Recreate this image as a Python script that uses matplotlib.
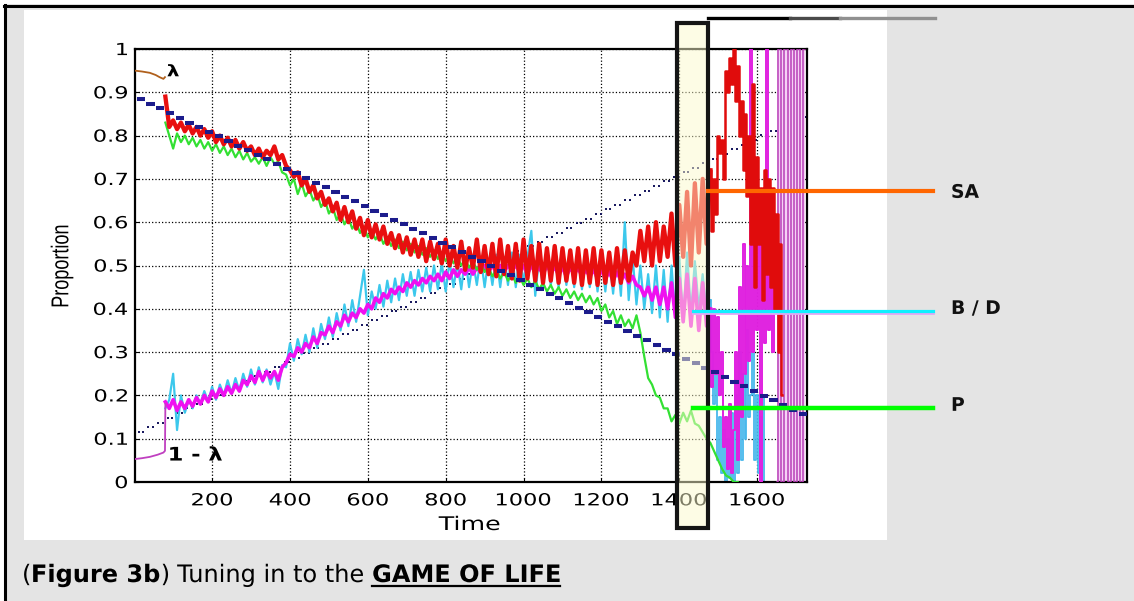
import numpy as np
import matplotlib
matplotlib.use('Agg')
import matplotlib.pyplot as plt
from matplotlib.patches import Rectangle, PathPatch
from matplotlib.lines import Line2D
from matplotlib.textpath import TextPath
from matplotlib.font_manager import FontProperties
from matplotlib.transforms import Affine2D

plt.rcParams['font.family'] = ['DejaVu Sans']

W, H = 1134, 601

# ---------------- data ----------------
# step of 10 time units from t=80 to t=1480
main_x = np.arange(80, 1481, 10)

sa = [0.89, 0.82, 0.835, 0.815, 0.83, 0.81, 0.825, 0.805, 0.82, 0.80,
      0.815, 0.795, 0.81, 0.785, 0.80, 0.78, 0.795, 0.775, 0.79, 0.77,
      0.785, 0.765, 0.775, 0.755, 0.77, 0.75, 0.765, 0.755, 0.775, 0.745,
      0.755, 0.73, 0.72, 0.705, 0.715, 0.685, 0.70, 0.67, 0.685, 0.655,
      0.67, 0.64, 0.655, 0.625, 0.645, 0.605, 0.635, 0.60, 0.625, 0.585,
      0.61, 0.57, 0.605, 0.565, 0.595, 0.56, 0.59, 0.55, 0.575, 0.54,
      0.57, 0.53, 0.565, 0.525, 0.56, 0.52, 0.56, 0.51, 0.555, 0.515,
      0.55, 0.505, 0.56, 0.50, 0.545, 0.495, 0.555, 0.49, 0.54, 0.495,
      0.56, 0.485, 0.545, 0.48, 0.55, 0.475, 0.56, 0.48, 0.545, 0.47,
      0.55, 0.465, 0.56, 0.47, 0.545, 0.465, 0.55, 0.46, 0.54, 0.465,
      0.545, 0.46, 0.54, 0.465, 0.535, 0.46, 0.54, 0.455, 0.535, 0.46,
      0.54, 0.455, 0.535, 0.46, 0.53, 0.455, 0.54, 0.46, 0.535, 0.465,
      0.53, 0.50, 0.58, 0.51, 0.59, 0.50, 0.60, 0.51, 0.59, 0.52,
      0.62, 0.50, 0.64, 0.52, 0.67, 0.50, 0.69, 0.53, 0.70, 0.55,
      0.72]

p_x = np.arange(80, 1551, 10)
p = [0.83, 0.80, 0.77, 0.805, 0.785, 0.80, 0.78, 0.795, 0.775, 0.79,
     0.77, 0.785, 0.765, 0.78, 0.76, 0.775, 0.755, 0.77, 0.75, 0.765,
     0.745, 0.76, 0.74, 0.75, 0.735, 0.75, 0.73, 0.75, 0.735, 0.74,
     0.715, 0.71, 0.685, 0.70, 0.665, 0.69, 0.66, 0.675, 0.65, 0.665,
     0.635, 0.65, 0.62, 0.635, 0.605, 0.62, 0.595, 0.61, 0.585, 0.60,
     0.575, 0.59, 0.565, 0.58, 0.56, 0.575, 0.55, 0.565, 0.545, 0.56,
     0.54, 0.555, 0.535, 0.55, 0.53, 0.545, 0.525, 0.54, 0.52, 0.535,
     0.515, 0.53, 0.51, 0.525, 0.505, 0.52, 0.50, 0.515, 0.495, 0.51,
     0.49, 0.505, 0.485, 0.495, 0.475, 0.49, 0.47, 0.485, 0.465, 0.48,
     0.46, 0.475, 0.455, 0.47, 0.45, 0.465, 0.445, 0.46, 0.44, 0.455,
     0.435, 0.45, 0.43, 0.445, 0.425, 0.44, 0.42, 0.435, 0.415, 0.43,
     0.41, 0.425, 0.395, 0.41, 0.38, 0.395, 0.365, 0.385, 0.36, 0.375,
     0.355, 0.385, 0.345, 0.29, 0.24, 0.225, 0.20, 0.195, 0.17, 0.17,
     0.14, 0.155, 0.135, 0.16, 0.14, 0.165, 0.135, 0.13, 0.115, 0.10,
     0.09, 0.07, 0.05, 0.03, 0.015, 0.01, 0.0, 0.0]

d = [0.185, 0.17, 0.19, 0.165, 0.185, 0.17, 0.19, 0.175, 0.195, 0.18,
     0.20, 0.185, 0.21, 0.195, 0.215, 0.20, 0.22, 0.205, 0.225, 0.21,
     0.235, 0.225, 0.245, 0.23, 0.255, 0.235, 0.255, 0.24, 0.255, 0.235,
     0.265, 0.275, 0.295, 0.29, 0.31, 0.30, 0.32, 0.31, 0.335, 0.32,
     0.345, 0.34, 0.36, 0.345, 0.37, 0.36, 0.385, 0.37, 0.39, 0.38,
     0.40, 0.39, 0.41, 0.40, 0.425, 0.415, 0.435, 0.425, 0.445, 0.435,
     0.45, 0.44, 0.46, 0.45, 0.465, 0.455, 0.47, 0.46, 0.475, 0.465,
     0.48, 0.465, 0.485, 0.47, 0.49, 0.475, 0.49, 0.48, 0.495, 0.48,
     0.495, 0.485, 0.50, 0.485, 0.50, 0.485, 0.50, 0.485, 0.50, 0.49,
     0.50, 0.485, 0.50, 0.48, 0.50, 0.485, 0.495, 0.48, 0.50, 0.485,
     0.495, 0.48, 0.495, 0.475, 0.495, 0.48, 0.495, 0.475, 0.49, 0.475,
     0.49, 0.47, 0.49, 0.47, 0.485, 0.465, 0.485, 0.465, 0.48, 0.46,
     0.475, 0.455, 0.45, 0.43, 0.45, 0.42, 0.45, 0.41, 0.45, 0.40,
     0.46, 0.38, 0.47, 0.37, 0.48, 0.36, 0.47, 0.35, 0.46, 0.36,
     0.40]

b = [0.17, 0.19, 0.25, 0.12, 0.20, 0.16, 0.19, 0.17, 0.20, 0.18,
     0.21, 0.185, 0.22, 0.19, 0.225, 0.20, 0.235, 0.205, 0.24, 0.21,
     0.25, 0.22, 0.26, 0.225, 0.265, 0.23, 0.26, 0.225, 0.255, 0.215,
     0.27, 0.265, 0.32, 0.28, 0.33, 0.295, 0.34, 0.30, 0.355, 0.31,
     0.365, 0.33, 0.38, 0.335, 0.39, 0.35, 0.41, 0.36, 0.42, 0.37,
     0.43, 0.49, 0.385, 0.44, 0.40, 0.455, 0.405, 0.465, 0.415, 0.47,
     0.42, 0.48, 0.43, 0.485, 0.43, 0.49, 0.44, 0.495, 0.44, 0.50,
     0.445, 0.505, 0.44, 0.51, 0.45, 0.505, 0.445, 0.52, 0.45, 0.51,
     0.455, 0.52, 0.45, 0.515, 0.455, 0.525, 0.45, 0.52, 0.455, 0.53,
     0.45, 0.525, 0.46, 0.52, 0.58, 0.43, 0.52, 0.45, 0.525, 0.455,
     0.53, 0.45, 0.525, 0.455, 0.53, 0.45, 0.525, 0.445, 0.53, 0.45,
     0.52, 0.44, 0.525, 0.44, 0.52, 0.435, 0.53, 0.43, 0.60, 0.42,
     0.52, 0.41, 0.50, 0.40, 0.48, 0.39, 0.50, 0.38, 0.49, 0.37,
     0.50, 0.38, 0.52, 0.37, 0.53, 0.39, 0.51, 0.40, 0.48, 0.39,
     0.42]

# unstable end of the run, step of 5 (first point repeats t=1480)
sa_wild_x = np.arange(1480, 1666, 5)
sa_wild = [0.72, 0.58, 0.70, 0.62, 0.80, 0.76, 0.79, 0.70, 0.95, 0.90, 0.98,
           0.92, 1.00, 0.88, 0.96, 0.80, 0.88, 0.72, 0.85, 0.66, 0.80,
           0.55, 0.92, 0.45, 0.75, 0.55, 0.68, 0.42, 0.72, 0.48, 0.70,
           0.45, 0.68, 0.40, 0.62, 0.30, 0.55, 0.20]
d_wild_x = np.arange(1480, 1646, 5)
d_wild = [0.40, 0.22, 0.40, 0.25, 0.38, 0.20, 0.30, 0.08, 0.15, 0.03, 0.18,
          0.02, 0.12, 0.30, 0.05, 0.45, 0.15, 0.55, 0.25, 0.50, 0.28,
          1.00, 0.30, 0.55, 0.35, 0.60, 0.0, 0.55, 0.32, 1.00, 0.35,
          0.55, 0.30, 0.50]
b_wild_x = np.arange(1480, 1621, 5)
b_wild = [0.42, 0.30, 0.18, 0.25, 0.05, 0.15, 0.02, 0.12, 0.00, 0.10, 0.01,
          0.16, 0.00, 0.20, 0.02, 0.30, 0.05, 0.25, 0.10, 0.35, 0.15,
          0.20, 0.30, 0.05, 0.20, 0.02, 0.15, 0.00, 0.20]
d_stripe_x = np.arange(1650, 1723, 8)
d_stripe = [0.0, 1.0, 0.0, 1.0, 0.0, 1.0, 0.0, 1.0, 0.0, 1.0]

# start of the run, before t=80
lam_x = [2, 20, 40, 55, 65, 75, 79]
lam = [0.95, 0.948, 0.945, 0.94, 0.935, 0.931, 0.935]
onelam_x = [2, 20, 40, 60, 75, 79, 80]
onelam = [0.053, 0.055, 0.058, 0.063, 0.068, 0.072, 0.18]

# lambda staircase (dashes)
lam_step_x = np.arange(17, 1718, 25)
lam_step = [0.884, 0.873, 0.863, 0.852, 0.841, 0.830, 0.820, 0.809, 0.798, 0.788,
            0.777, 0.766, 0.756, 0.745, 0.734, 0.724, 0.713, 0.702, 0.691, 0.681,
            0.670, 0.659, 0.649, 0.638, 0.627, 0.617, 0.606, 0.595, 0.584, 0.574,
            0.563, 0.552, 0.542, 0.531, 0.520, 0.510, 0.499, 0.488, 0.477, 0.467,
            0.456, 0.445, 0.435, 0.424, 0.413, 0.403, 0.392, 0.381, 0.370, 0.360,
            0.349, 0.338, 0.328, 0.317, 0.306, 0.296, 0.285, 0.274, 0.263, 0.253,
            0.242, 0.231, 0.221, 0.210, 0.199, 0.189, 0.178, 0.167, 0.157]

window = (1394, 1474)
xticks = [200, 400, 600, 800, 1000, 1200, 1400, 1600]
yticks = [0, 0.1, 0.2, 0.3, 0.4, 0.5, 0.6, 0.7, 0.8, 0.9, 1]
ytick_labels = ['0', '0.1', '0.2', '0.3', '0.4', '0.5', '0.6', '0.7', '0.8', '0.9', '1']

STRETCH = 1.35   # the chart picture is stretched sideways


def fx(px):
    return px / W


def fy(py):
    return 1 - py / H


fig = plt.figure(figsize=(W / 100, H / 100), dpi=100, facecolor='white')


def stext(x, y, s, size, weight='normal', family='DejaVu Sans', ha='left',
          va='baseline', sx=1.0, rot=0, color='black', z=30):
    # text drawn as a path so it can be widened like the original picture
    tp = TextPath((0, 0), s, size=size * 100 / 72, prop=FontProperties(family=family, weight=weight))
    e = tp.get_extents()
    ox = {'left': 0, 'center': (e.x0 + e.x1) / 2, 'right': e.x1}[ha]
    oy = {'baseline': 0, 'center': (e.y0 + e.y1) / 2, 'top': e.y1, 'bottom': e.y0}[va]
    tr = Affine2D().translate(-ox, -oy).rotate_deg(rot).scale(sx, 1).translate(x, H - y)
    fig.add_artist(PathPatch(tp, transform=tr, facecolor=color, edgecolor='none', lw=0, zorder=z))
    return e.x1 * sx


# page background, frame and white panel
fig.add_artist(Rectangle((fx(4), 0), 1, fy(4), facecolor='#e4e4e4', edgecolor='none', zorder=-3))
fig.add_artist(Rectangle((fx(24), fy(540)), fx(887) - fx(24), fy(10) - fy(540),
                         facecolor='white', edgecolor='none', zorder=-2))
fig.add_artist(Line2D([fx(4), 1], [fy(5.5)] * 2, color='black', lw=2.2, zorder=-1))
fig.add_artist(Line2D([fx(5), fx(5)], [0, fy(4.5)], color='black', lw=2.2, zorder=-1))

ax = fig.add_axes([fx(135), fy(482), fx(807) - fx(135), fy(49) - fy(482)])
ax.set_xlim(2, 1728)
ax.set_ylim(0, 1)

# dotted 1 - lambda staircase
dots = 1 - np.array(lam_step)
ax.plot(lam_step_x - 6, dots, ls='none', marker='s', ms=1.6, mew=0, color='#1a1a60', zorder=1)
ax.plot(lam_step_x + 6, dots, ls='none', marker='s', ms=1.6, mew=0, color='#1a1a60', zorder=1)

ax.plot(main_x, b, color='#3cc8ec', lw=1.6, zorder=2)
ax.plot(b_wild_x, b_wild, color='#48b8ec', lw=1.3, drawstyle='steps-mid', zorder=2)
ax.plot(main_x, d, color='#f010f0', lw=2.6, zorder=3)
ax.plot(d_wild_x, d_wild, color='#e020e0', lw=1.4, drawstyle='steps-mid', zorder=3)
ax.fill_between(d_stripe_x, min(d_stripe), max(d_stripe), color='#f6d2f6', lw=0, zorder=2)
ax.plot(d_stripe_x, d_stripe, color='#b840b8', lw=1.1, drawstyle='steps-mid', zorder=3)
ax.plot(p_x, p, color='#33e033', lw=1.6, zorder=4)
ax.plot(main_x, sa, color='#e80f0f', lw=3.1, zorder=5)
ax.plot(sa_wild_x, sa_wild, color='#e00c0c', lw=1.8, drawstyle='steps-mid', zorder=5)
ax.plot(lam_x, lam, color='#b0601c', lw=1.3, zorder=5)
ax.plot(onelam_x, onelam, color='#c040c0', lw=1.3, zorder=5)

ax.hlines(lam_step, lam_step_x - 10.5, lam_step_x + 10.5, colors='#1c1c8c', lw=2.9, zorder=6)

ax.set_xticks(xticks)
ax.set_yticks(yticks)
ax.tick_params(direction='in', length=3, labelbottom=False, labelleft=False, color='black')
ax.grid(True, ls=':', color='black', lw=0.9)
ax.set_axisbelow(True)
for s in ax.spines.values():
    s.set_linewidth(1.6)
    s.set_color('black')

# tick labels, widened like the original
for v in xticks:
    px = ax.transData.transform((v, 0))[0]
    stext(px, 493, str(v), 12, ha='center', va='top', sx=STRETCH, z=-0.5)
for v, lab in zip(yticks, ytick_labels):
    py = H - ax.transData.transform((0, v))[1]
    stext(127, py, lab, 12, ha='right', va='center', sx=STRETCH, z=-0.5)

# point labels on the curves
lx, ly = ax.transData.transform((100, 0.951))
stext(lx, H - ly, 'λ', 11.5, weight='bold', ha='center', va='center', sx=1.25, z=5)
lx, ly = ax.transData.transform((86, 0.066))
stext(lx, H - ly, '1 - λ', 13.5, weight='bold', ha='left', va='center', sx=1.2, z=5)

stext(62, 266, 'Proportion', 13, family='Liberation Sans', ha='center', va='center',
      rot=90, sx=STRETCH, z=-0.5)
stext(469, 523, 'Time', 13.5, ha='center', va='center', sx=STRETCH, z=-0.5)

# highlighted window
ax.add_patch(Rectangle((window[0], -0.106), window[1] - window[0], 1.166,
                       transform=ax.get_xaxis_transform(), clip_on=False,
                       facecolor=(0.99, 0.98, 0.80, 0.5), edgecolor='#151515', lw=3, zorder=10))

# callouts
fig.add_artist(Line2D([fx(708), fx(790)], [fy(18)] * 2, color='black', lw=2.4, zorder=20))
fig.add_artist(Line2D([fx(790), fx(840)], [fy(18)] * 2, color='#4a4a4a', lw=2.4, zorder=20))
fig.add_artist(Line2D([fx(840), fx(935)], [fy(18)] * 2, color='#909090', lw=2.4, zorder=20))
fig.add_artist(Line2D([fx(708), fx(933)], [fy(191)] * 2, color='#ff6600', lw=3, zorder=20))
fig.add_artist(Line2D([fx(693), fx(933)], [fy(313)] * 2, color='#e0a8f4', lw=2, zorder=20))
fig.add_artist(Line2D([fx(693), fx(933)], [fy(311)] * 2, color='#10f0ff', lw=2.3, zorder=21))
fig.add_artist(Line2D([fx(693), fx(933)], [fy(408)] * 2, color='#00ff00', lw=3.2, zorder=20))
for lab, yy in [('SA', 191), ('B / D', 308), ('P', 404)]:
    stext(951, yy, lab, 13.5, weight='bold', ha='left', va='center', color='#111111')

# caption with bold / underlined parts
CAP = 17.3
space_w = (TextPath((0, 0), 'a a', size=CAP * 100 / 72).get_extents().x1
           - TextPath((0, 0), 'aa', size=CAP * 100 / 72).get_extents().x1)
xpos = 22
parts = [('(', 'normal'), ('Figure 3b', 'bold'), (')', 'normal'), (' ', 'space'),
         ('Tuning in to the', 'normal'), (' ', 'space'), ('GAME OF LIFE', 'bold')]
for txt, kind in parts:
    if kind == 'space':
        xpos += space_w
        continue
    wdt = stext(xpos, 582, txt, CAP, weight='bold' if kind == 'bold' else 'normal') + 1.5
    if txt == 'GAME OF LIFE':
        fig.add_artist(Line2D([fx(xpos), fx(xpos + wdt - 1.5)], [fy(585.5)] * 2, color='black', lw=1.6))
    xpos += wdt

fig.savefig('out.png', dpi=100)
